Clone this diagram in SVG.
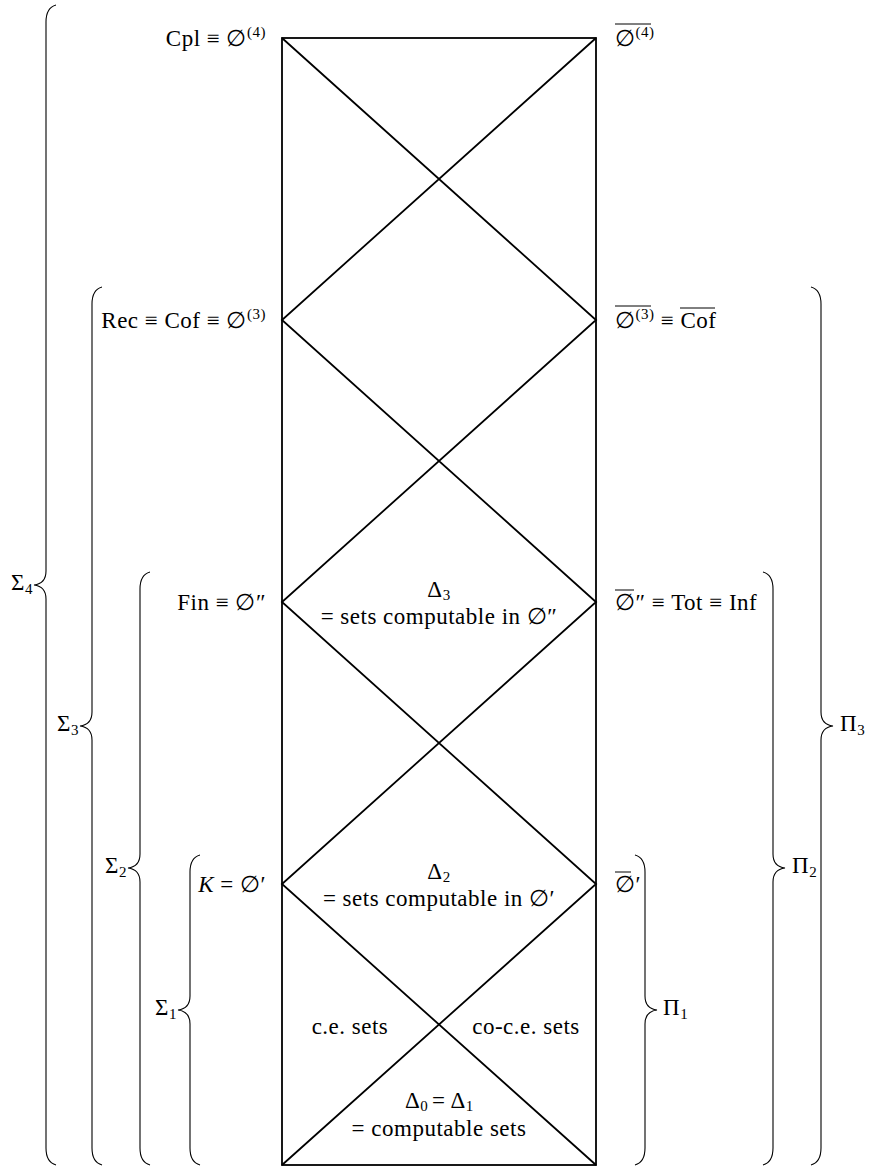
<svg xmlns="http://www.w3.org/2000/svg" width="871" height="1168" viewBox="0 0 871 1168">
<style>
text{font-family:"Liberation Serif","DejaVu Serif",serif;font-size:23px;letter-spacing:0.5px;fill:#000}
.sub{font-size:15px}
.sup{font-size:15px}
.l{text-anchor:end}
.c{text-anchor:middle}
.brace{fill:none;stroke:#000;stroke-width:1.1}
.box{fill:none;stroke:#000;stroke-width:1.8}
.ov{stroke:#000;stroke-width:1}
</style>
<rect width="871" height="1168" fill="#fff"/>
<g id="connectors">
<rect class="box" x="282" y="38" width="314" height="1127"/>
<path class="box" d="M282,38 L596,320 L282,602 L596,884 L282,1165 M596,38 L282,320 L596,602 L282,884 L596,1165"/>
</g>
<g id="braces">
<path id="sigma4-brace" class="brace" d="M56,5 C49,7 46,12 46,22 L46,571 C46,579 42,584 34,585 C42,586 46,591 46,599 L46,1148 C46,1158 49,1163 56,1165"/>
<path id="sigma3-brace" class="brace" d="M102,287 C95,289 92,294 92,304 L92,712 C92,720 88,725 80,726 C88,727 92,732 92,740 L92,1148 C92,1158 95,1163 102,1165"/>
<path id="sigma2-brace" class="brace" d="M150,572 C143,574 140,579 140,589 L140,854 C140,862 136,867 128,868 C136,869 140,874 140,882 L140,1148 C140,1158 143,1163 150,1165"/>
<path id="sigma1-brace" class="brace" d="M200,855 C193,857 190,862 190,872 L190,996 C190,1004 186,1009 178,1010 C186,1011 190,1016 190,1024 L190,1148 C190,1158 193,1163 200,1165"/>
<path id="pi1-brace" class="brace" d="M635,855 C642,857 645,862 645,872 L645,996 C645,1004 649,1009 657,1010 C649,1011 645,1016 645,1024 L645,1148 C645,1158 642,1163 635,1165"/>
<path id="pi2-brace" class="brace" d="M763,572 C770,574 773,579 773,589 L773,854 C773,862 777,867 785,868 C777,869 773,874 773,882 L773,1148 C773,1158 770,1163 763,1165"/>
<path id="pi3-brace" class="brace" d="M811,287 C818,289 821,294 821,304 L821,712 C821,720 825,725 833,726 C825,727 821,732 821,740 L821,1148 C821,1158 818,1163 811,1165"/>
</g>
<g id="sigma-labels">
<text class="l" x="33" y="590">Σ<tspan class="sub" dy="4">4</tspan></text>
<text class="l" x="79" y="731">Σ<tspan class="sub" dy="4">3</tspan></text>
<text class="l" x="127" y="873">Σ<tspan class="sub" dy="4">2</tspan></text>
<text class="l" x="177" y="1015">Σ<tspan class="sub" dy="4">1</tspan></text>
<text x="663" y="1015">Π<tspan class="sub" dy="4">1</tspan></text>
<text x="792" y="873">Π<tspan class="sub" dy="4">2</tspan></text>
<text x="840" y="731">Π<tspan class="sub" dy="4">3</tspan></text>
</g>
<g id="node-cpl">
<text class="l" x="266" y="46">Cpl ≡ ∅<tspan class="sup" dy="-9">(4)</tspan></text>
<text x="615" y="46">∅<tspan class="sup" dy="-9">(4)</tspan></text>
<line class="ov" x1="615" y1="24" x2="651" y2="24"/>
</g>
<g id="node-rec">
<text class="l" x="266" y="328">Rec ≡ Cof ≡ ∅<tspan class="sup" dy="-9">(3)</tspan></text>
<text x="615" y="328">∅<tspan class="sup" dy="-9">(3)</tspan><tspan dy="9"> ≡ Cof</tspan></text>
<line class="ov" x1="615" y1="306" x2="651" y2="306"/>
<line class="ov" x1="680" y1="308" x2="715" y2="308"/>
</g>
<g id="node-fin">
<text class="l" x="266" y="610">Fin ≡ ∅″</text>
<text x="615" y="610">∅″ ≡ Tot ≡ Inf</text>
<line class="ov" x1="615" y1="590" x2="634" y2="590"/>
</g>
<g id="node-k">
<text class="l" x="266" y="892"><tspan font-style="italic">K</tspan> = ∅′</text>
<text x="615" y="892">∅′</text>
<line class="ov" x1="615" y1="872" x2="631" y2="872"/>
</g>
<g id="node-delta3">
<text class="c" x="439" y="597">Δ<tspan class="sub" dy="3">3</tspan></text>
<text class="c" x="439" y="624">= sets computable in ∅″</text>
</g>
<g id="node-delta2">
<text class="c" x="439" y="879">Δ<tspan class="sub" dy="3">2</tspan></text>
<text class="c" x="439" y="906">= sets computable in ∅′</text>
</g>
<g id="node-ce">
<text class="c" x="350" y="1034">c.e. sets</text>
</g>
<g id="node-coce">
<text class="c" x="526" y="1034">co-c.e. sets</text>
</g>
<g id="node-delta0">
<text x="405" y="1108">Δ<tspan class="sub" dy="3">0</tspan></text>
<text x="432" y="1108">= Δ<tspan class="sub" dy="3">1</tspan></text>
<text class="c" x="439" y="1136">= computable sets</text>
</g>
</svg>
